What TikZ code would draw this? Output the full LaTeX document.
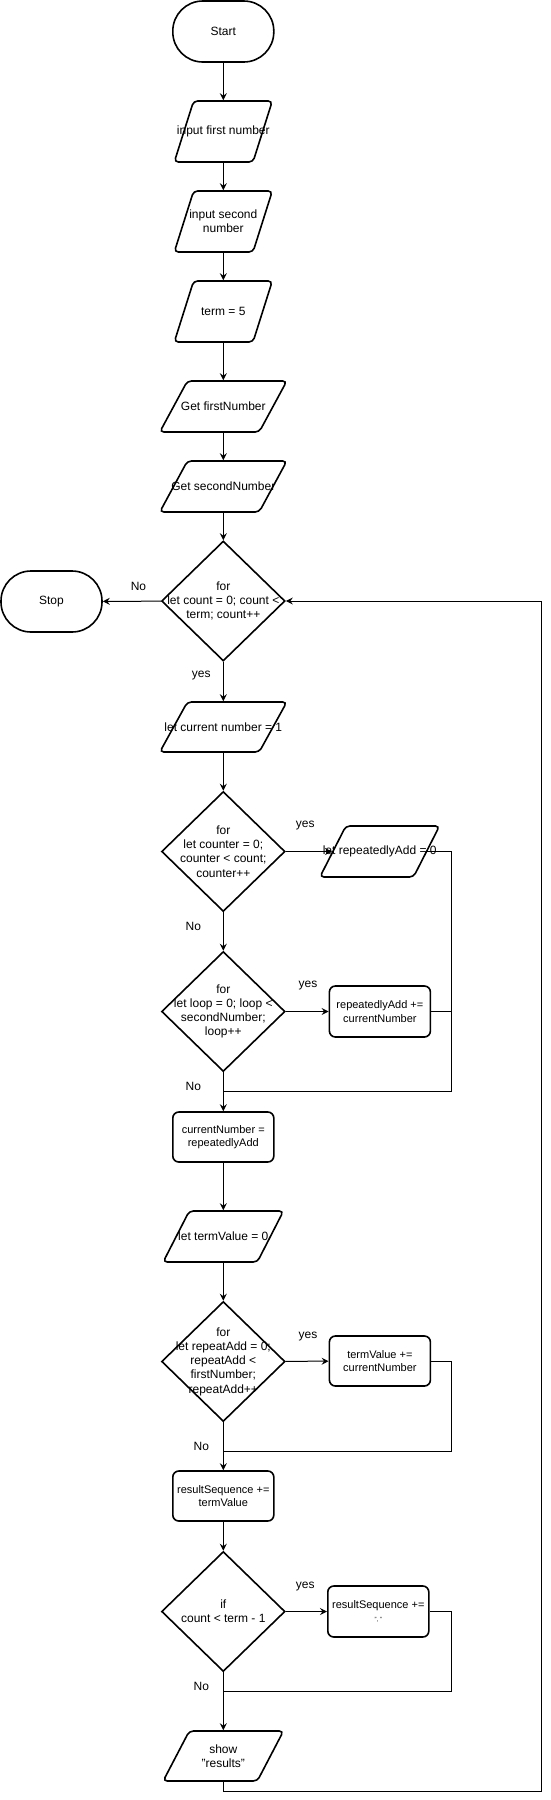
\documentclass[tikz,border=0pt]{standalone}
\usepackage{fontspec}
\setmainfont{Liberation Sans}
\usetikzlibrary{shapes.geometric,arrows.meta}

\tikzset{
	term/.style={draw, line width=1.6pt, rectangle, rounded corners=30pt, minimum width=101pt, minimum height=61pt, inner sep=1pt},
	io/.style={draw, line width=1.6pt, trapezium, trapezium left angle=72, trapezium right angle=108, trapezium stretches=true, rounded corners=4pt, inner sep=2pt, minimum width=#1, minimum height=61pt},
	io/.default=98pt,
	slim/.style={minimum height=51pt, trapezium left angle=69, trapezium right angle=111},
	proc/.style={draw, line width=1.6pt, rectangle, rounded corners=6pt, minimum width=101pt, minimum height=50pt, inner sep=1pt},
	cond/.style={draw, line width=1.6pt, diamond, minimum width=123.5pt, minimum height=120pt, inner sep=1pt},
	txt/.style={align=center, font=\fontsize{12}{14.2}\selectfont},
	boxtxt/.style={align=center, font=\fontsize{11}{13.6}\selectfont},
	arr/.style={line width=1pt, -{Stealth[length=7pt, width=7pt, inset=2.5pt]}},
	line/.style={line width=1pt}
}

\begin{document}
\begin{tikzpicture}[x=1pt, y=-1pt]
\useasboundingbox (0,0) rectangle (550,1800);

% shapes
\node[term] (start) at (223.3,31.5) {};
\node[io] (in1) at (223.3,131.5) {};
\node[io] (in2) at (223.3,221.5) {};
\node[io] (five) at (223.3,311.5) {};
\node[io=127pt, slim] (getA) at (223.3,406.5) {};
\node[io=127pt, slim] (getB) at (223.3,486.5) {};
\node[cond] (loopA) at (223.3,601) {};
\node[term] (stop) at (51.5,601.5) {};
\node[io=127pt, slim, minimum height=50pt] (cur) at (223.3,727) {};
\node[cond] (loopB) at (223.3,851.5) {};
\node[io=119.6pt, slim] (rep0) at (379.7,851.5) {};
\node[cond] (loopC) at (223.3,1011.5) {};
\node[proc, minimum height=51pt] (repAdd) at (379.9,1011.5) {};
\node[proc] (cnum) at (223.3,1137) {};
\node[io=120.3pt, slim] (tv0) at (223.3,1236.5) {};
\node[cond] (loopD) at (223.3,1361.5) {};
\node[proc] (tvAdd) at (379.9,1361) {};
\node[proc] (rs) at (223.3,1496) {};
\node[cond] (ifE) at (223.3,1611.5) {};
\node[proc, minimum height=51pt] (comma) at (378.3,1611.5) {};
\node[io=120.3pt, slim, minimum height=50pt] (show) at (223.3,1756) {};

% texts
\node[txt] at (start) {Start};
\node[txt] at (in1) {input first number};
\node[txt] at (in2) {input second\\number};
\node[txt] at (five) {term = 5};
\node[txt] at (getA) {Get firstNumber};
\node[txt] at (getB) {Get secondNumber};
\node[txt] at (loopA) {for\\let count = 0; count <\\term; count++};
\node[txt] at (stop) {Stop};
\node[txt] at (cur) {let current number = 1};
\node[txt] at (loopB) {for\\let counter = 0;\\counter < count;\\counter++};
\node[txt] at (rep0) {let repeatedlyAdd = 0};
\node[txt] at (loopC) {for\\let loop = 0; loop <\\secondNumber;\\loop++};
\node[boxtxt] at (repAdd) {repeatedlyAdd +=\\currentNumber};
\node[boxtxt] at (cnum) {currentNumber =\\repeatedlyAdd};
\node[txt] at (tv0) {let termValue = 0};
\node[txt] at (loopD) {for\\let repeatAdd = 0;\\repeatAdd <\\firstNumber;\\repeatAdd++};
\node[boxtxt] at (tvAdd) {termValue +=\\currentNumber};
\node[boxtxt] at (rs) {resultSequence +=\\termValue};
\node[txt] at (ifE) {if\\count < term - 1};
\node[boxtxt] at (comma) {resultSequence +=\\{\fontsize{6}{7}\selectfont ", "}};
\node[txt] at (show) {show\\"results"};

% main column
\foreach \a/\b in {start/in1, in1/in2, in2/five, five/getA, getA/getB, getB/loopA, loopA/cur, cur/loopB, loopB/loopC, loopC/cnum, cnum/tv0, tv0/loopD, loopD/rs, rs/ifE, ifE/show}
	\draw[arr] (\a) -- (\b);

% side branches
\foreach \a/\b in {loopA/stop, loopB/rep0, loopC/repAdd, loopD/tvAdd, ifE/comma}
	\draw[arr] (\a) -- (\b);
\draw[line] (rep0.east) -| (451.4,1091) -- (223.3,1091);
\draw[line] (repAdd.east) -- (451.4,1011.5);
\draw[line] (tvAdd.east) -| (451.4,1451) -- (223.3,1451);
\draw[line] (comma.east) -| (451.4,1691) -- (223.3,1691);

% back to the outer loop
\coordinate (back) at (541.2,1791);
\draw[arr] (show.south) |- (back) |- (loopA.east);

% labels
\node[txt] (noA) at (138.5,586) {No};
\node[txt] (yesA) at (201.3,676) {yes};
\node[txt] (yesB) at (305.2,826) {yes};
\node[txt] (noB) at (193.3,926) {No};
\node[txt] (yesC) at (308,986) {yes};
\node[txt] (noC) at (193.3,1086) {No};
\node[txt] (yesD) at (308,1336) {yes};
\node[txt] (noD) at (201.3,1446) {No};
\node[txt] (yesE) at (305.2,1586) {yes};
\node[txt] (noE) at (201.3,1686) {No};

\end{tikzpicture}
\end{document}
